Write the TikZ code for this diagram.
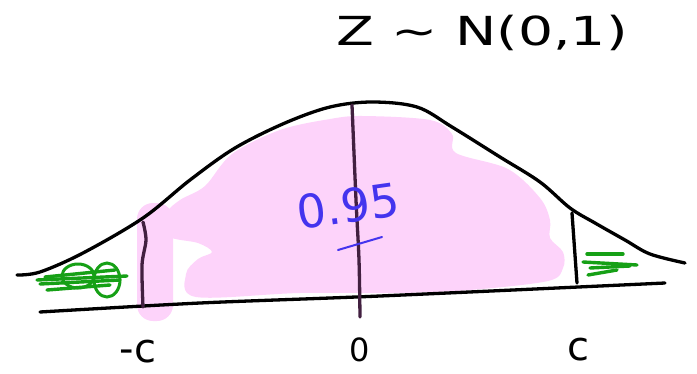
\documentclass[tikz,border=0pt]{standalone}
\usepackage{fontspec}
\setmainfont{DejaVu Sans}
\usepackage{tikz}

\definecolor{pinkfill}{RGB}{253,211,250}
\definecolor{plum}{RGB}{66,32,64}
\definecolor{scribble}{RGB}{22,160,22}
\definecolor{ink}{RGB}{68,52,238}

\begin{document}
\begin{tikzpicture}[x=1pt,y=-1pt,
    pen/.style={line width=3.3pt,line cap=round,line join=round},
    hatch/.style={scribble,line width=3.4pt,line cap=round},
    lbl/.style={font=\fontsize{40}{44}\selectfont,inner sep=0pt}]
\useasboundingbox (0,0) rectangle (697,373);
% shaded area between -c and c
\fill[pinkfill,rounded corners=16pt] (137,203) rectangle (173,321);
\fill[pinkfill] plot[smooth cycle,tension=0.55] coordinates {
  (196,297) (186,274) (198,259) (212,252) (198,243) (168,236) (166,214)
  (180,200) (205,186) (232,154) (280,130) (330,119) (363,116) (430,120)
  (452,134) (456,153) (508,169) (540,198) (550,220) (550,238) (563,252)
  (563,268) (548,281) (470,290) (400,293) (300,293)};
% axis and density
\draw[pen] plot[smooth,tension=0.5] coordinates {(40,312) (200,303) (380,296) (665,283)};
\draw[pen] plot[smooth,tension=0.55] coordinates {
  (17,275) (40,272) (83,253) (143,218) (190,180) (235,148) (285,123)
  (330,107) (372,102) (417,107) (452,127) (500,157) (540,182)
  (570,208) (595,223) (625,240) (650,254) (685,263)};
% cut-off lines
\draw[pen,plum] plot[smooth] coordinates {(143,222) (146,240) (142,265) (143,307)};
\draw[pen,plum] plot[smooth] coordinates {(352,105) (356,200) (359,260) (360,317)};
\draw[pen] (572,213) -- (577,283);
% tails
\draw[hatch] (37,280) -- (127,276);
\draw[hatch] (40,284) -- (120,280);
\draw[hatch] (47,290) -- (110,285);
\draw[hatch] (45,277) -- (115,270);
\draw[scribble,line width=3pt] (78,276) ellipse (16 and 12);
\draw[scribble,line width=3pt] (107,280) ellipse (13 and 17);
\draw[hatch] (587,254) -- (623,254);
\draw[hatch] (583,262) -- (637,265);
\draw[hatch] (590,268) -- (630,266);
\draw[hatch] (588,275) -- (617,270);
% labels
\node[lbl,xscale=1.38] (title) at (482,33) {Z ∼ N(0,1)};
\node[lbl,ink,rotate=8,font=\fontsize{46}{50}\selectfont] (prob) at (348,206) {0.95};
\draw[ink,line width=2pt,line cap=round] (338,250) -- (382,237);
\node[lbl] (lmc) at (138,352) {-c};
\node[lbl,font=\fontsize{32}{36}\selectfont] (zero) at (360,350) {0};
\node[lbl] (rc) at (578,350) {c};
\end{tikzpicture}
\end{document}
